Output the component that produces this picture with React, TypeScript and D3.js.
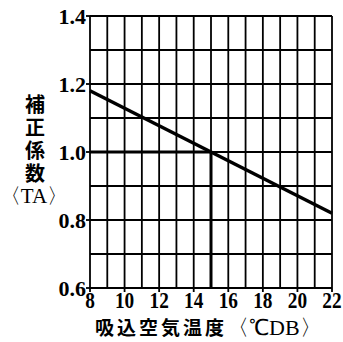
import * as d3 from 'd3'

const xTicks = [8, 10, 12, 14, 16, 18, 20, 22]
const yTicks = [0.6, 0.8, 1.0, 1.2, 1.4]
const xGrid = d3.range(8, 23, 1)
const yGrid = [0.6, 0.7, 0.8, 0.9, 1.0, 1.1, 1.2, 1.3, 1.4]
const lineTemp = [8, 22]
const lineFactor = [1.18, 0.82]
const refPoint = { temp: 15, factor: 1.0 }
const yTitle = '補正係数'
const yUnit = 'TA'
const xTitle = '吸込空気温度'
const xUnit = '℃DB'

const W = 343
const H = 342
const margin = { top: 16, right: 11, bottom: 54, left: 90 }

export default function App() {
  const x = d3.scaleLinear().domain([8, 22]).range([margin.left, W - margin.right])
  const y = d3.scaleLinear().domain([0.6, 1.4]).range([H - margin.bottom, margin.top])
  const pts: [number, number][] = lineTemp.map((t, i) => [t, lineFactor[i]])
  const line = d3.line<[number, number]>().x(d => x(d[0])).y(d => y(d[1]))
  const serif = '"Liberation Serif", "Times New Roman", serif'
  const cjk = 'Noto Sans CJK JP'

  return (
    <svg width={W} height={H} style={{ position: 'absolute', left: 0, top: 0, background: '#fff' }}>
      {/* grid */}
      {xGrid.map(v => (
        <line key={'gx' + v} x1={x(v)} x2={x(v)} y1={y(0.6)} y2={y(1.4)} stroke="#000" strokeWidth={1.8} />
      ))}
      {yGrid.map(v => (
        <line key={'gy' + v} x1={x(8)} x2={x(22)} y1={y(v)} y2={y(v)} stroke="#000" strokeWidth={1.8} />
      ))}
      {/* ticks */}
      {yTicks.map(v => (
        <line key={'ty' + v} x1={x(8) - 4} x2={x(8)} y1={y(v)} y2={y(v)} stroke="#000" strokeWidth={1.8} />
      ))}
      {xTicks.map(v => (
        <line key={'tx' + v} x1={x(v)} x2={x(v)} y1={y(0.6)} y2={y(0.6) + 4} stroke="#000" strokeWidth={1.8} />
      ))}
      {/* reference lines at 15 / 1.0 */}
      <line x1={x(8)} x2={x(refPoint.temp)} y1={y(refPoint.factor)} y2={y(refPoint.factor)} stroke="#000" strokeWidth={3} />
      <line x1={x(refPoint.temp)} x2={x(refPoint.temp)} y1={y(refPoint.factor)} y2={y(0.6)} stroke="#000" strokeWidth={3} />
      {/* data line */}
      <path d={line(pts) || ''} fill="none" stroke="#000" strokeWidth={3.5} />
      {/* y tick labels */}
      {yTicks.map(v => (
        <text key={'ly' + v} x={x(8) - 4} y={y(v) + 7.5} textAnchor="end" fontFamily={serif} fontWeight="bold" fontSize={22}>
          {v.toFixed(1)}
        </text>
      ))}
      {/* x tick labels */}
      {xTicks.map(v => (
        <text key={'lx' + v} transform={`translate(${x(v)},${308}) scale(0.84,1)`} textAnchor="middle" fontFamily={serif} fontWeight="bold" fontSize={23}>
          {v}
        </text>
      ))}
      {/* y title, vertical */}
      <text x={35} y={94} writingMode="tb" fontFamily={cjk} fontWeight="bold" fontSize={20} letterSpacing={3}>
        {yTitle}
      </text>
      <text x={34} y={203} textAnchor="middle" fontFamily={serif} fontSize={21}>
        {'〈' + yUnit + '〉'}
      </text>
      {/* x title */}
      <text x={95} y={335} fontFamily={cjk} fontWeight="bold" fontSize={19} letterSpacing={3}>
        {xTitle}
        <tspan fontFamily={serif} fontWeight="normal" fontSize={22} letterSpacing={0}>{'〈' + xUnit + '〉'}</tspan>
      </text>
    </svg>
  )
}
